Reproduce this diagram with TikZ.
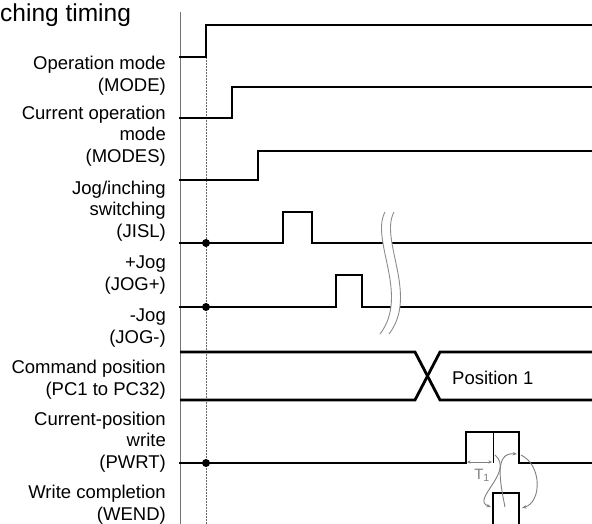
\documentclass[tikz,border=0pt]{standalone}
\usepackage{fontspec}
\setmainfont{Liberation Sans}
\usetikzlibrary{arrows.meta}
\begin{document}
\begin{tikzpicture}[x=1pt,y=-1pt,
  sig/.style={line width=2.8pt, line join=miter, line cap=rect},
  lbl/.style={anchor=base east, align=right, inner sep=0pt, font=\fontsize{18.5}{21.5}\selectfont},
  axisline/.style={draw=black!55, line width=0.8pt},
  guide/.style={draw=black!60, line width=0.7pt, dash pattern=on 1.6pt off 1.4pt},
  brk/.style={draw=black!45, line width=0.9pt},
  garrow/.style={draw=black!50, line width=0.9pt, -{Stealth[length=4.5pt,width=3.5pt]}},
  dot/.style={fill=black}]
\useasboundingbox (0,0) rectangle (592,523);
\clip (0,0) rectangle (592,523);
\fill[white] (0,0) rectangle (592,523);

% title
\node[anchor=base west, inner sep=0pt, font=\fontsize{24.5}{24.5}\selectfont] (title) at (0,21) {ching timing};

% labels (anchored at the baseline of their last line)
\node[lbl] (lmode)  at (166,91)  {Operation mode\\(MODE)};
\node[lbl] (lmodes) at (166,162) {Current operation\\mode\\(MODES)};
\node[lbl] (ljisl)  at (166,237) {Jog/inching\\switching\\(JISL)};
\node[lbl] (ljogp)  at (166,290) {+Jog\\(JOG+)};
\node[lbl] (ljogm)  at (166,343) {-Jog\\(JOG-)};
\node[lbl] (lpc)    at (166,395) {Command position\\(PC1 to PC32)};
\node[lbl] (lpwrt)  at (166,468) {Current-position\\write\\(PWRT)};
\node[lbl] (lwend)  at (166,520) {Write completion\\(WEND)};

% axis and guide
\draw[axisline] (180,12) -- (180,530);
\draw[guide] (206,57) -- (206,530);

% waveforms
\draw[sig] (180,57) -- (206,57) -- (206,25) -- (600,25);
\draw[sig] (180,118) -- (232,118) -- (232,87) -- (600,87);
\draw[sig] (180,180) -- (258,180) -- (258,151) -- (600,151);
\draw[sig] (180,243) -- (283,243) -- (283,212) -- (312,212) -- (312,243) -- (600,243);
\draw[sig] (180,307) -- (336,307) -- (336,275) -- (362,275) -- (362,307) -- (600,307);

% break marks
\fill[white] (385,212) .. controls (370,240) and (410,295) .. (380,334) -- (389,334) .. controls (419,295) and (379,240) .. (394,212) -- cycle;
\draw[brk] (385,212) .. controls (370,240) and (410,295) .. (380,334);
\draw[brk] (394,212) .. controls (379,240) and (419,295) .. (389,334);

% command position bus
\draw[sig, line cap=butt] (180,352) -- (415,352) -- (440,400) -- (600,400);
\draw[sig, line cap=butt] (180,400) -- (415,400) -- (440,352) -- (600,352);
\node[anchor=base west, inner sep=0pt, font=\fontsize{18.5}{21.5}\selectfont] (pos1) at (452,384) {Position 1};

% PWRT
\draw[sig] (180,463) -- (466,463) -- (466,432) -- (519,432) -- (519,463) -- (600,463);
\draw[line width=0.8pt] (493,432) -- (493,463);
% WEND
\draw[sig, line cap=butt] (493,530) -- (493,493) -- (519,493) -- (519,530);

% dots
\fill[dot] (206,243) circle (4pt);
\fill[dot] (206,307) circle (4pt);
\fill[dot] (206,463) circle (4pt);

% T1
\coordinate (t1a) at (467,462);
\coordinate (t1b) at (492,462);
\draw[draw=black!50, line width=0.7pt, {Stealth[length=3.5pt,width=3pt]}-{Stealth[length=3.5pt,width=3pt]}] (t1a) -- (t1b);
\node[text=black!50, anchor=base, inner sep=0pt, font=\fontsize{15}{15}\selectfont] (t1) at (482,479) {T\textsubscript{1}};

% causal arrows
\coordinate (c1s) at (495,455);
\coordinate (c1e) at (491,507);
\coordinate (c2s) at (505,507);
\coordinate (c2e) at (517,454);
\coordinate (c3s) at (521,455);
\coordinate (c3e) at (522,508);
\draw[garrow] (c1s) .. controls (515,472) and (470,500) .. (c1e);
\draw[garrow] (c2s) .. controls (500,482) and (494,452) .. (c2e);
\draw[garrow] (c3s) .. controls (542,465) and (542,502) .. (c3e);
\end{tikzpicture}
\end{document}
